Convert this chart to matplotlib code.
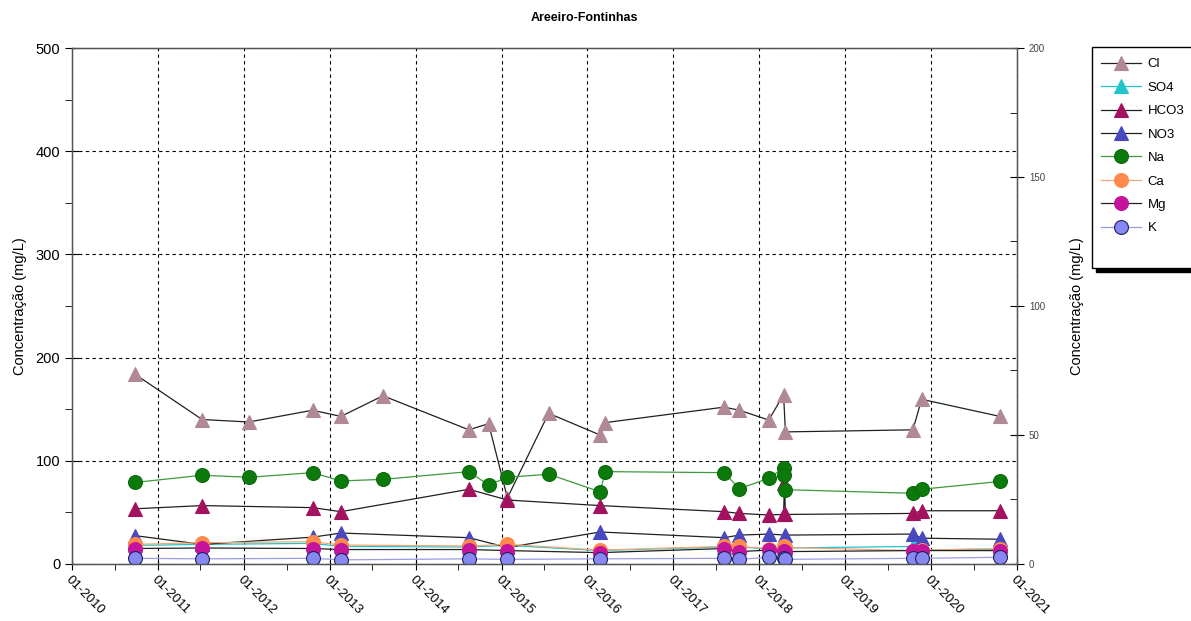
import numpy as np
import pandas as pd
import matplotlib
matplotlib.use("Agg")
import matplotlib.pyplot as plt
import matplotlib.dates as mdates
from matplotlib.patches import Rectangle
from matplotlib.ticker import MultipleLocator

plt.rcParams['font.family'] = ['Liberation Sans', 'DejaVu Sans']

nan = np.nan

# sampling dates
dates = pd.to_datetime([
    '2010-09-25', '2011-07-08', '2012-01-22', '2012-10-20', '2013-02-17',
    '2013-08-15', '2014-08-15', '2014-11-07', '2015-01-26', '2015-07-20',
    '2016-02-24', '2016-03-17', '2017-08-04', '2017-10-08', '2018-02-10',
    '2018-04-14', '2018-04-18', '2018-04-22', '2019-10-16', '2019-11-22',
    '2020-10-20'])

# concentrations (mg/L)
cl   = [184, 140, 137.6, 149, 143, 163, 130, 136, 64, 146, 125, 137, 152, 149, 139.5, 164, nan, 128, 130, 159.6, 143]
so4  = [18, 19, nan, 20, 17, nan, 16.5, nan, 18, nan, 13, nan, 16.5, 16.5, 14.5, 16.5, nan, 15.5, 17, 13.5, 14.5]
hco3 = [53.5, 56.6, nan, 54.6, 50.7, nan, 72.4, nan, 62, nan, 56.6, nan, 50.7, 49, 47.5, 48, 78, 48, 49, 51.6, 51.6]
no3  = [27.5, 19, nan, 26, 30, nan, 25.5, nan, 16, nan, 31, nan, 25.5, 28, 29, nan, nan, 28, 29, 25, 24]
na   = [79, 86, 84, 88.5, 80.5, 82, 89.5, 76.5, 84, 87, 70, 89.5, 88.5, 73, 83, 93, 86, 72, 68.5, 72.4, 80]
ca   = [19, 20.6, nan, 21.6, 18.4, nan, 17.4, nan, 19, nan, 13.5, nan, 17, 17, 15, 17, nan, 16, 13, 13.5, 15]
mg   = [15, 15.5, nan, 15, 14, nan, 14, nan, 13, nan, 11, nan, 15, 12, 13.5, 13, nan, 12, 13, 13, 13]
k    = [5.5, 5, nan, 5.5, 4, nan, 5, nan, 4.5, nan, 5, nan, 5.5, 4.5, 6.5, 6, nan, 4.5, 5.5, 5.5, 6.5]

# label, values, marker, face colour, line colour, edge colour
series = [
    ('Cl',   cl,   '^', '#B08898', '#202020', '#B08898'),
    ('SO4',  so4,  '^', '#22C4CC', '#22C4CC', '#22C4CC'),
    ('HCO3', hco3, '^', '#A3125E', '#202020', '#A3125E'),
    ('NO3',  no3,  '^', '#4848C0', '#202020', '#4848C0'),
    ('Na',   na,   'o', '#0B7A0B', '#3C9A3C', '#0B6A0B'),
    ('Ca',   ca,   'o', '#FF8A4C', '#F0A878', '#FF8A4C'),
    ('Mg',   mg,   'o', '#C4149C', '#202020', '#C4149C'),
    ('K',    k,    'o', '#8888F2', '#9C9CE4', '#202060'),
]

fig = plt.figure(figsize=(11.91, 6.21), dpi=100)
ax = fig.add_axes([0.0605, 0.0918, 0.7935, 0.8309])

handles = []
for label, vals, mk, fc, lc, ec in series:
    s = pd.Series(vals, index=dates).dropna()
    ms = 10.5 if mk == '^' else 10
    h, = ax.plot(s.index, s.values, color=lc, lw=0.9, marker=mk, markersize=ms,
                 markerfacecolor=fc, markeredgecolor=ec, markeredgewidth=0.8,
                 label=label)
    handles.append(h)

ax.set_xlim(pd.Timestamp('2010-01-01'), pd.Timestamp('2021-01-01'))
ax.set_ylim(0, 500)
ax.xaxis.set_major_locator(mdates.YearLocator())
ax.xaxis.set_minor_locator(mdates.MonthLocator(bymonth=7))
ax.xaxis.set_major_formatter(mdates.DateFormatter('%m-%Y'))
ax.yaxis.set_major_locator(MultipleLocator(100))
ax.yaxis.set_minor_locator(MultipleLocator(50))
ax.grid(True, which='major', color='black', linestyle=(0, (3, 3)), lw=0.8)

for lab in ax.get_xticklabels():
    lab.set_rotation(-45)
    lab.set_ha('left')
    lab.set_va('top')
    lab.set_rotation_mode('anchor')
ax.tick_params(axis='x', which='major', direction='inout', length=8, labelsize=9.5, pad=3)
ax.tick_params(axis='x', which='minor', direction='out', length=4)
ax.tick_params(axis='y', which='major', direction='inout', length=10, labelsize=10.5)
ax.tick_params(axis='y', which='minor', direction='out', length=5)
ax.set_ylabel('Concentração (mg/L)', fontsize=10.5, labelpad=6)

for sp in ax.spines.values():
    sp.set_color('#555555')
    sp.set_linewidth(1.0)

ax2 = ax.twinx()
ax2.set_ylim(0, 200)
ax2.yaxis.set_major_locator(MultipleLocator(50))
ax2.yaxis.set_minor_locator(MultipleLocator(25))
ax2.tick_params(axis='y', which='major', direction='inout', length=10, labelsize=7, labelcolor='#444444')
ax2.tick_params(axis='y', which='minor', direction='in', length=5)
ax2.set_ylabel('Concentração (mg/L)', fontsize=10.5, labelpad=18)
for sp in ax2.spines.values():
    sp.set_color('#555555')

fig.text(0.491, 0.971, 'Areeiro-Fontinhas', ha='center', va='center', fontsize=9, fontweight='bold')

# legend box with shadow
x0, y0 = 1092 / 1191, 1 - 268 / 621
w, hgt = 120 / 1191, (268 - 47) / 621
fig.patches.append(Rectangle((x0 + 4 / 1191, y0 - 4 / 621), w, hgt, transform=fig.transFigure,
                             facecolor='black', edgecolor='black', zorder=1))
fig.patches.append(Rectangle((x0, y0), w, hgt, transform=fig.transFigure,
                             facecolor='white', edgecolor='black', lw=1.0, zorder=2))
leg = fig.legend(handles=handles, loc='upper left', bbox_to_anchor=(0.920, 0.915),
                 frameon=False, fontsize=9.5, handlelength=3.0, handletextpad=0.55,
                 labelspacing=0.85, borderaxespad=0, markerscale=1.0)
leg.set_zorder(3)

fig.savefig('out.png', dpi=100)
